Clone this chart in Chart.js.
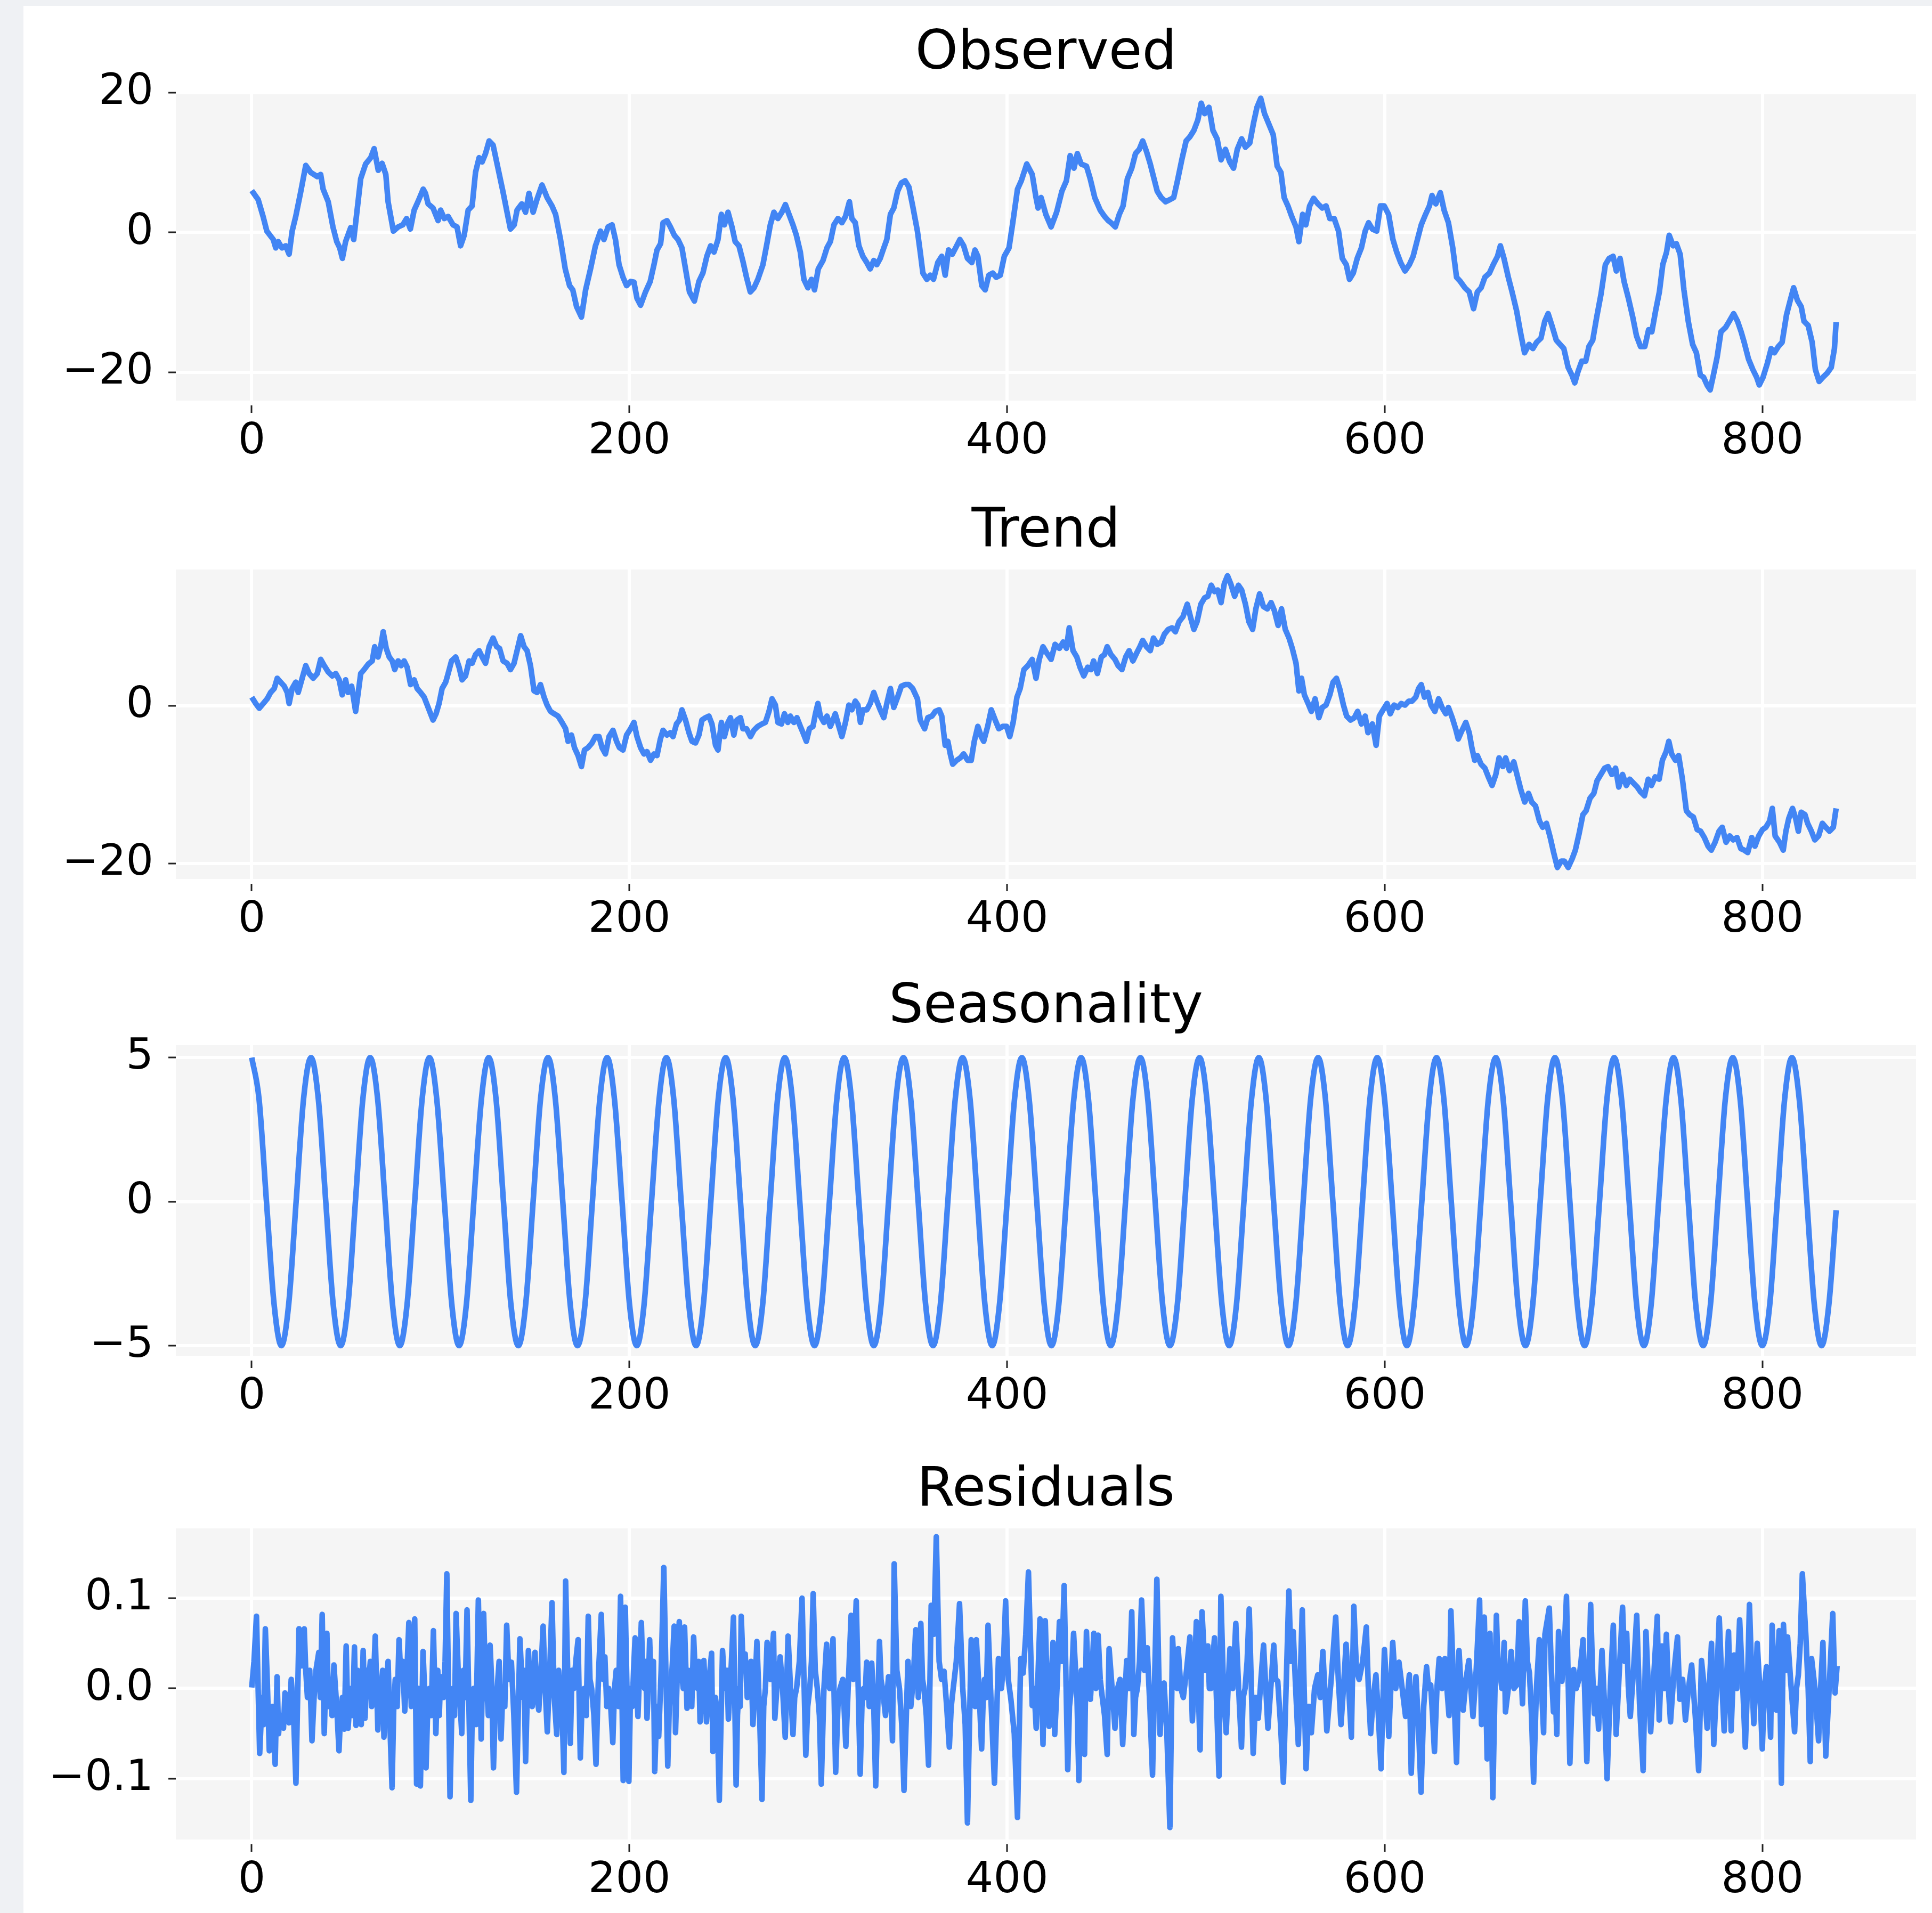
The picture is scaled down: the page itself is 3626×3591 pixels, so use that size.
<!DOCTYPE html>
<html>
<head>
<meta charset="utf-8">
<script src="https://cdn.jsdelivr.net/npm/chart.js@4.4.1/dist/chart.umd.min.js"></script>
<style>
  html, body { margin: 0; padding: 0; }
  body { width: 3626px; height: 3591px; background: #eff1f4; position: relative; overflow: hidden; }
  #sheet { position: absolute; left: 44px; top: 11px; right: 0; bottom: 0; background: #fff; }
  canvas { position: absolute; left: 0; }
</style>
</head>
<body>
<div id="sheet"></div>
<canvas id="obs"></canvas>
<canvas id="trend"></canvas>
<canvas id="season"></canvas>
<canvas id="resid"></canvas>
<script>
const titles = ['Observed', 'Trend', 'Seasonality', 'Residuals']
const xTicks = [0, 200, 400, 600, 800]
const obsTicks = [-20, 0, 20]
const trendTicks = [-20, 0]
const seasonTicks = [-5, 0, 5]
const residTicks = [-0.1, 0, 0.1]

const observed = [[0,6.0],[3.4,4.7],[6,2.3],[8,0.2],[11.4,-1],[12.7,-2.2],[14,-1.3],[16,-2.2],[18,-1.9],[19.8,-3.1],[21.4,0.2],[23.3,2.3],[26,5.9],[28.6,9.6],[31.2,8.6],[34.7,8.0],[36.5,8.3],[37.8,6.2],[40.5,4.4],[43,0.8],[45,-1.3],[46.6,-2.2],[48,-3.7],[49.7,-1.3],[52.4,0.7],[54,-1],[55.8,3.2],[57.7,7.7],[60.3,9.8],[63,10.7],[64.8,12.0],[67,8.9],[69,9.9],[71,8.3],[72.2,4.4],[75,0.2],[77.5,0.8],[80,1.1],[82,2],[84,0.5],[86,3.2],[88,4.4],[90.8,6.2],[92,5.6],[93.4,4.1],[96,3.5],[98.7,1.7],[100,3.2],[102,2],[104,2.3],[106.6,1.1],[108.7,0.8],[110.6,-1.9],[112.5,-0.4],[114.6,3.2],[116.7,3.8],[118.5,8.6],[120.4,10.7],[122,10.1],[123.8,11.3],[125.7,13.1],[127.8,12.5],[130.4,9.2],[133,5.9],[135.2,2.9],[137,0.5],[139,1.1],[140.5,3.2],[143,4.1],[145,2.9],[146.8,5.6],[149,2.9],[151,4.7],[153.7,6.8],[156.4,5.0],[159,3.8],[160.9,2.6],[163.5,-1],[166,-5.2],[168.3,-7.6],[170,-8.2],[172,-10.6],[174.6,-12.1],[176.8,-8.2],[179.4,-5.2],[182,-1.9],[184.7,0.2],[186.5,-1],[188.7,0.8],[190.8,1.1],[192.6,-1],[194.5,-4.6],[196.6,-6.4],[198.5,-7.6],[200.6,-7],[202.4,-7.1],[204,-9.4],[205.9,-10.4],[208.5,-8.5],[211,-7],[213,-4.6],[214.6,-2.5],[216.5,-1.6],[217.8,1.4],[219.9,1.7],[221.7,0.8],[223.8,-0.4],[225.7,-1],[227.8,-2.2],[229.7,-5.2],[231.8,-8.5],[234.4,-9.8],[236.8,-7],[238.9,-5.8],[241,-3.4],[243,-1.9],[244.8,-2.8],[246.9,-1],[248.7,2.6],[250.3,1.1],[252.2,2.9],[254.3,0.8],[256,-1.3],[258,-1.9],[260,-4],[262,-6.4],[264,-8.5],[266,-7.9],[268,-6.7],[270.7,-4.6],[272.8,-1.6],[274.6,1.1],[276.5,2.9],[278.6,2],[280.7,2.9],[282.6,4],[284.5,2.6],[286.6,1.1],[288.4,-0.4],[290.5,-2.8],[292.4,-6.7],[294.5,-7.9],[296.4,-6.7],[298,-8.2],[300,-5.2],[302.5,-4],[304.6,-2.2],[306.4,-1.3],[308.3,1.1],[310.4,2],[312.5,1.4],[314.4,2.3],[316.5,4.4],[317.8,2],[319.6,1.4],[321.5,-1.9],[323.6,-3.4],[325.7,-4.3],[327.5,-5.2],[329.4,-4],[331,-4.6],[332.8,-3.7],[334.7,-2.2],[336.3,-1],[338.2,2.6],[340,3.5],[342,5.9],[344,7.1],[346,7.4],[348,6.5],[350,3.8],[352.5,0.2],[354,-2.8],[355.4,-5.8],[357.5,-6.7],[359.3,-6.1],[361,-6.7],[363.3,-4.3],[365.4,-3.4],[367.2,-6.1],[369,-2.5],[371,-3.1],[373.3,-1.9],[375,-1],[377,-1.9],[379,-3.7],[381.3,-4.3],[383,-2.5],[384.5,-3.4],[386.6,-7.6],[388.4,-8.2],[390.3,-6.1],[392.4,-5.8],[394.2,-6.4],[396.4,-6.1],[398.5,-3.4],[401,-2.2],[403,1.4],[405.5,6.2],[407.5,7.4],[410.4,9.8],[413.3,8.3],[415.3,5],[416.4,3.5],[418,5],[420.5,2.6],[423.3,0.8],[426.2,2.9],[429,5.9],[431.4,7.4],[433.4,11],[435.4,9.2],[437.2,11.3],[439.2,9.8],[442,9.5],[444,7.7],[446.4,5],[449.3,3.2],[451.6,2.3],[453.6,1.7],[455,1.4],[457.3,0.8],[459.4,2.6],[461.4,3.8],[463.7,7.7],[466,9.2],[468,11.3],[470,11.9],[471.8,13.1],[473.8,11.6],[475.8,9.8],[477.5,8],[479.5,5.9],[481.6,5],[483.9,4.4],[486.2,4.7],[488.2,5],[490.2,7.4],[492.5,10.4],[494.8,13.1],[496.8,13.7],[498.9,14.6],[501,16.1],[502.8,18.5],[504.6,17],[506.9,17.9],[509,14.6],[511.2,13.4],[513.3,10.4],[515.6,11.9],[517.9,10.1],[519.9,9.2],[521.9,11.9],[524.2,13.4],[526.2,12.2],[528.5,12.8],[530.6,15.8],[532.3,17.9],[534.3,19.2],[536.3,17],[538.6,15.5],[540.9,14],[543,9.5],[545,8.6],[546.7,5],[548.7,3.8],[550.7,2.3],[553,0.8],[554.5,-1.3],[556.5,2.6],[558.2,1.1],[560.2,3.8],[562.3,4.9],[564.6,4.1],[566.9,3.5],[568.9,3.8],[570.9,2],[573.2,2],[575.5,0.2],[577.5,-3.7],[579.6,-4.6],[581.3,-6.7],[583.3,-5.8],[585.4,-3.7],[587.6,-2.2],[589.6,0.2],[591.4,1.4],[593.4,0.5],[595.7,0.2],[597.7,3.8],[599.7,3.8],[602,2.6],[604.3,-1],[606.3,-2.8],[608.4,-4.3],[610.7,-5.5],[613,-4.6],[615,-3.4],[617,-1.3],[619.3,1.1],[621.6,2.6],[623.6,3.8],[625,5.3],[627,4.1],[629.4,5.7],[631.4,3.2],[633.7,1.4],[636,-2.2],[638,-6.4],[640,-7],[642.4,-7.9],[644.7,-8.5],[647,-10.9],[649,-8.5],[651,-7.9],[653,-6.4],[655.4,-5.8],[657.4,-4.6],[659.7,-3.4],[661.2,-1.9],[663.1,-3.7],[665.4,-6.4],[667.4,-8.5],[669.8,-11.2],[671.8,-14.2],[674,-17.2],[676.4,-16],[678.4,-16.6],[680.4,-15.7],[682.7,-15.1],[684.7,-12.7],[686.5,-11.6],[688.5,-13.3],[690.8,-15.4],[692.8,-16],[694.8,-16.6],[697.1,-19.3],[699.1,-20.4],[700.6,-21.5],[702.3,-19.9],[704.3,-18.4],[706.4,-18.4],[708.1,-16.3],[710.1,-15.4],[712.2,-12.1],[714.5,-8.8],[716.8,-4.6],[718.8,-3.7],[720.9,-3.4],[722.6,-5.5],[724.6,-3.7],[726.7,-7],[729,-9.4],[731.3,-12.1],[733.3,-14.8],[735.4,-16.3],[737.7,-16.3],[739.7,-13.9],[741.4,-14.2],[743.4,-11.2],[745.4,-8.5],[747.2,-4.6],[749.2,-2.8],[750.6,-0.4],[752.7,-1.9],[754.4,-1.6],[756.4,-3.1],[758.4,-8.2],[760.7,-12.7],[763,-16],[765,-17.2],[767.1,-20.4],[768.8,-20.7],[770.8,-21.9],[772.3,-22.5],[774,-20.4],[776,-17.8],[778,-14.2],[780.4,-13.6],[782.4,-12.7],[784.7,-11.6],[786.8,-12.7],[788.7,-14.2],[790.3,-15.7],[792.6,-18.1],[794.9,-19.6],[796.9,-20.7],[798.3,-21.8],[800.3,-20.7],[802.6,-18.7],[804.6,-16.6],[806.3,-17.2],[808.4,-16.3],[810.4,-15.7],[812.7,-11.8],[814.7,-9.7],[816.5,-7.9],[818.5,-9.7],[820.5,-10.6],[822,-12.7],[824.2,-13.3],[826.3,-15.7],[828,-19.6],[830,-21.3],[832,-20.7],[834.3,-20.1],[836.4,-19.3],[838.1,-16.6],[839,-12.8]]

const trend = [[0,1.1],[2.1,0.3],[4,-0.3],[6.1,0.3],[8.2,0.9],[10,1.7],[11.9,2.2],[13.5,3.5],[15.3,3],[17.2,2.5],[18.8,1.7],[19.8,0.3],[21.4,2.2],[23.3,3],[24.6,1.7],[26.7,3.5],[28.6,5.1],[30.4,4.1],[32.5,3.5],[34.7,4.1],[36.5,5.9],[38.4,5.1],[40.5,4.3],[42.6,3.8],[44.5,4.1],[46.3,3.3],[47.9,1.4],[49.7,3.3],[51,1.7],[52.9,2.5],[55,-0.7],[56.4,1.7],[57.7,4.1],[59.5,4.6],[61.7,5.3],[63.8,5.7],[65.1,7.5],[66.9,6.2],[68.3,7.5],[69.6,9.4],[71.2,7.3],[72.8,6.2],[74.4,5.7],[75.7,4.6],[77.5,5.7],[79.1,5.1],[80.7,5.7],[82.3,4.9],[84.1,2.7],[86,3.3],[87.6,2.2],[89.4,1.7],[91.3,1.1],[93.4,-0.2],[94.7,-1],[96,-1.8],[97.6,-1],[99.2,0.3],[100.8,2.2],[102.7,3],[104,4.1],[105.8,5.7],[108,6.2],[109.8,4.9],[111.4,3.3],[113.2,3.8],[115.1,5.7],[116.7,5.4],[118.5,6.5],[120.4,7],[122,6.2],[123.8,5.4],[125.7,7.5],[127.8,8.6],[129.7,7.5],[131.2,7.3],[133.1,5.7],[135.2,5.4],[137,4.6],[138.9,5.4],[140.5,7],[142.4,8.9],[144.2,7.5],[145.8,7],[147.6,5.1],[149.5,1.9],[151.1,1.7],[152.9,2.7],[154.8,1.1],[156.4,0.1],[158.2,-0.7],[160.1,-1],[162.2,-1.3],[164.3,-2.1],[166.2,-2.9],[167.5,-4.5],[169.3,-3.7],[170.9,-5.3],[172.8,-6.3],[174.6,-7.7],[176.2,-5.6],[178.1,-5.3],[180.2,-4.7],[182,-3.9],[183.9,-3.9],[185.5,-5.3],[187.3,-6.1],[189.2,-3.9],[191.3,-3.1],[193.2,-4.5],[194.7,-5.3],[196.6,-5.6],[198.5,-3.7],[200.6,-2.9],[202.4,-2.1],[204,-3.9],[205.9,-5.3],[207.7,-6.1],[209.3,-5.8],[211.2,-6.9],[213,-6.1],[214.6,-6.3],[216.4,-4.2],[217.8,-3.1],[219.9,-3.7],[221.7,-3.4],[223.1,-3.9],[224.9,-2.3],[226.5,-1.8],[227.8,-0.5],[229.7,-1.8],[231.5,-3.4],[233.1,-4.5],[235,-4.7],[236.8,-3.7],[238.4,-1.8],[240.3,-1.5],[242.1,-1.3],[243.7,-2.3],[245.6,-5],[246.9,-5.6],[248.7,-2.1],[250.3,-3.9],[252.2,-2.1],[253.5,-1.5],[255.3,-3.7],[256.9,-1.8],[258.8,-1.5],[260.1,-2.9],[262,-2.9],[264.1,-3.9],[265.9,-3.1],[268,-2.6],[270.2,-2.3],[272,-2.1],[273.9,-0.7],[275.5,0.9],[277.3,0.1],[278.6,-2.1],[280.5,-2.3],[282.1,-1],[283.9,-2.1],[285.2,-1.3],[287.1,-2.1],[288.7,-1.5],[290.5,-2.6],[291.9,-3.4],[293.7,-4.5],[295.3,-2.9],[297.2,-2.6],[298.5,-1],[299.8,0.3],[301.1,-1.3],[303,-2.1],[304.6,-1.3],[306.4,-2.6],[307.8,-1.8],[309,-1],[310.9,-2.6],[312.5,-3.9],[314.4,-2.1],[316.2,0.1],[317.8,-0.5],[319.6,0.6],[321,0.1],[322.3,-2.1],[323.6,-0.5],[325.7,-0.5],[327.5,0.3],[329.4,1.7],[331,0.6],[332.8,-0.5],[334.7,-1.5],[336.3,0.3],[338.2,2.2],[340,-0.2],[342,1.1],[344,2.5],[346,2.7],[348,2.7],[350,2.2],[352.5,0.9],[354,-1.8],[356.3,-2.9],[358,-1.5],[360.2,-1.3],[362,-0.7],[364,-0.5],[365.4,-1.3],[367.2,-5],[368.6,-4.5],[369.9,-6.1],[371.2,-7.4],[373.3,-6.9],[375.2,-6.6],[377,-6.1],[379.1,-6.9],[381,-6.9],[382.6,-4.5],[384.5,-2.6],[386.3,-3.9],[387.6,-4.5],[389.7,-2.6],[391.6,-0.5],[393.7,-1.8],[395.6,-2.9],[397.7,-2.6],[399.7,-2.6],[401.4,-3.9],[403.2,-2.1],[405.2,1.1],[406.9,2.2],[408.9,4.6],[411,5.1],[413.3,5.9],[415.3,3.5],[417,5.9],[419,7.5],[421,6.7],[423.3,5.9],[425.4,7.8],[427.7,7.3],[429.7,8.1],[431.4,7.3],[432.9,9.9],[434.9,7],[436.9,6.2],[438.6,4.9],[440.6,3.8],[442.7,4.9],[444.4,4.6],[445.8,5.7],[447.8,4.1],[449.9,6.2],[451.6,6.5],[453,7.5],[455,6.5],[457.1,5.9],[458.8,5.1],[460.8,4.6],[462.8,6.2],[464.6,7],[466.6,5.7],[468.6,6.7],[470.3,7.5],[471.8,8.3],[473.8,7.5],[475.8,7],[477.5,8.6],[479.5,7.8],[481.6,8.1],[483.3,9.1],[485.3,9.7],[487.3,9.9],[489.1,9.4],[491.1,10.7],[493.1,11.3],[495.4,12.9],[497.4,11],[498.9,9.7],[500.6,10.7],[502.6,12.9],[504.6,13.7],[506.3,13.9],[508.1,15.3],[509.8,14.5],[511.5,14.7],[513.3,13.1],[515,15.5],[516.7,16.5],[518.4,15.5],[520.5,13.9],[522.5,15.3],[524.2,14.7],[526.2,12.9],[528,10.7],[530,9.7],[531.7,12.3],[533.7,14.2],[535.7,12.6],[537.8,12.3],[539.8,13.1],[541.5,12.1],[543.5,10.2],[545.3,12.3],[547.3,9.7],[549.3,8.6],[551,7.3],[553,5.4],[554.5,1.9],[555.9,3.5],[557.4,1.4],[559.4,0.3],[561.1,-0.7],[563.1,0.9],[565.1,-1.5],[566.9,-0.2],[568.9,0.1],[570.9,1.4],[572.6,3],[574.4,3.5],[576.1,2.2],[578.1,0.1],[579.8,-1.3],[581.9,-1.8],[583.9,-1.5],[585.6,-0.7],[587.6,-2.3],[589.6,-1.3],[591.1,-3.4],[593.4,-2.3],[595.4,-5],[597.1,-1.3],[599.1,-0.5],[601.2,0.3],[602.9,-1],[604.9,0.1],[606.9,-0.2],[608.7,0.3],[610.7,0.1],[612.7,0.6],[614.4,0.6],[616.4,1.1],[617.9,2.2],[619.3,2.7],[621,1.1],[622.8,1.7],[624.5,0.1],[626.5,-0.7],[628.5,0.9],[630.3,-0.2],[632.3,-1],[633.7,-0.2],[635.7,-1.5],[637.5,-2.9],[638.9,-4.2],[640.9,-3.1],[642.9,-2.1],[644.7,-3.4],[646.1,-5.3],[647.6,-6.9],[649,-6.3],[651,-7.4],[653,-7.9],[654.8,-9],[656.8,-10.1],[658.8,-8.7],[660.5,-6.6],[662.5,-7.7],[664,-6.6],[666,-8.2],[668.3,-7.1],[670.3,-9],[672,-10.6],[674.1,-12.2],[676.1,-11.1],[677.8,-12.2],[679.8,-12.7],[681.9,-14.6],[683.6,-15.4],[685.6,-14.9],[687.6,-16.7],[689.4,-18.6],[691.4,-20.5],[693.4,-19.7],[695.1,-19.7],[697.1,-20.5],[699.2,-19.4],[700.9,-18.3],[702.9,-16.2],[704.9,-13.8],[706.6,-13.3],[708.7,-11.7],[710.7,-11.1],[712.4,-9.5],[714.4,-8.7],[716.4,-7.9],[718.2,-7.7],[720.2,-8.7],[722.2,-7.9],[723.9,-10.3],[725.9,-8.7],[727.9,-10.1],[729.7,-9.3],[731.7,-9.8],[733.7,-10.3],[735.4,-10.9],[737.5,-11.4],[739.5,-9.3],[741.2,-10.1],[743.2,-9],[745.3,-9.3],[747,-6.9],[749,-5.8],[750.4,-4.5],[751.9,-6.1],[753.9,-6.9],[755.6,-6.3],[757.6,-9.3],[759.7,-13.3],[761.4,-13.8],[763.4,-14.1],[765.4,-15.7],[767.2,-15.9],[769.2,-16.7],[771.2,-17.8],[772.9,-18.3],[774.9,-17.3],[777,-15.9],[778.7,-15.4],[780.7,-17.3],[782.7,-16.5],[784.5,-17],[786.5,-16.7],[788.5,-18.1],[790.3,-18.3],[792.2,-18.6],[794.3,-16.7],[796,-17.8],[798,-16.5],[800,-15.7],[801.8,-15.4],[803.8,-14.6],[805.2,-13],[806.7,-16.5],[809,-17.3],[811,-18.3],[812.4,-15.9],[813.9,-14.3],[815.9,-13],[817.6,-14.3],[819,-15.9],[820.5,-13.5],[822.5,-13.8],[823.9,-14.9],[825.9,-15.9],[827.7,-17],[829.7,-16.5],[831.7,-14.9],[833.5,-15.4],[835.5,-15.9],[837.5,-15.4],[839,-13]]

const seasonal = [[0,5],[3.9,3.54],[7.8,0],[11.8,-3.54],[15.7,-5],[19.6,-3.54],[23.5,0],[27.4,3.54],[31.4,5],[35.3,3.54],[39.2,0],[43.1,-3.54],[47.1,-5],[51.0,-3.54],[54.9,0],[58.8,3.54],[62.7,5],[66.7,3.54],[70.6,0],[74.5,-3.54],[78.4,-5],[82.3,-3.54],[86.3,0],[90.2,3.54],[94.1,5],[98.0,3.54],[102.0,0],[105.9,-3.54],[109.8,-5],[113.7,-3.54],[117.6,0],[121.6,3.54],[125.5,5],[129.4,3.54],[133.3,0],[137.2,-3.54],[141.2,-5],[145.1,-3.54],[149.0,0],[152.9,3.54],[156.9,5],[160.8,3.54],[164.7,0],[168.6,-3.54],[172.5,-5],[176.5,-3.54],[180.4,0],[184.3,3.54],[188.2,5],[192.1,3.54],[196.1,0],[200.0,-3.54],[203.9,-5],[207.8,-3.54],[211.7,0],[215.7,3.54],[219.6,5],[223.5,3.54],[227.4,0],[231.4,-3.54],[235.3,-5],[239.2,-3.54],[243.1,0],[247.0,3.54],[251.0,5],[254.9,3.54],[258.8,0],[262.7,-3.54],[266.6,-5],[270.6,-3.54],[274.5,0],[278.4,3.54],[282.3,5],[286.3,3.54],[290.2,0],[294.1,-3.54],[298.0,-5],[301.9,-3.54],[305.9,0],[309.8,3.54],[313.7,5],[317.6,3.54],[321.5,0],[325.5,-3.54],[329.4,-5],[333.3,-3.54],[337.2,0],[341.1,3.54],[345.1,5],[349.0,3.54],[352.9,0],[356.8,-3.54],[360.8,-5],[364.7,-3.54],[368.6,0],[372.5,3.54],[376.4,5],[380.4,3.54],[384.3,0],[388.2,-3.54],[392.1,-5],[396.0,-3.54],[400.0,0],[403.9,3.54],[407.8,5],[411.7,3.54],[415.7,0],[419.6,-3.54],[423.5,-5],[427.4,-3.54],[431.3,0],[435.3,3.54],[439.2,5],[443.1,3.54],[447.0,0],[450.9,-3.54],[454.9,-5],[458.8,-3.54],[462.7,0],[466.6,3.54],[470.6,5],[474.5,3.54],[478.4,0],[482.3,-3.54],[486.2,-5],[490.2,-3.54],[494.1,0],[498.0,3.54],[501.9,5],[505.8,3.54],[509.8,0],[513.7,-3.54],[517.6,-5],[521.5,-3.54],[525.4,0],[529.4,3.54],[533.3,5],[537.2,3.54],[541.1,0],[545.1,-3.54],[549.0,-5],[552.9,-3.54],[556.8,0],[560.7,3.54],[564.7,5],[568.6,3.54],[572.5,0],[576.4,-3.54],[580.3,-5],[584.3,-3.54],[588.2,0],[592.1,3.54],[596.0,5],[599.9,3.54],[603.9,0],[607.8,-3.54],[611.7,-5],[615.6,-3.54],[619.6,0],[623.5,3.54],[627.4,5],[631.3,3.54],[635.2,0],[639.2,-3.54],[643.1,-5],[647.0,-3.54],[650.9,0],[654.8,3.54],[658.8,5],[662.7,3.54],[666.6,0],[670.5,-3.54],[674.5,-5],[678.4,-3.54],[682.3,0],[686.2,3.54],[690.1,5],[694.1,3.54],[698.0,0],[701.9,-3.54],[705.8,-5],[709.7,-3.54],[713.7,0],[717.6,3.54],[721.5,5],[725.4,3.54],[729.4,0],[733.3,-3.54],[737.2,-5],[741.1,-3.54],[745.0,0],[749.0,3.54],[752.9,5],[756.8,3.54],[760.7,0],[764.6,-3.54],[768.6,-5],[772.5,-3.54],[776.4,0],[780.3,3.54],[784.3,5],[788.2,3.54],[792.1,0],[796.0,-3.54],[799.9,-5],[803.9,-3.54],[807.8,0],[811.7,3.54],[815.6,5],[819.5,3.54],[823.5,0],[827.4,-3.54],[831.3,-5],[835.2,-3.54],[839,-0.3]]

const residual = [[0,0.001],[1.2,0.03],[2.5,0.080],[4.2,-0.072],[5.5,-0.010],[6.3,-0.04],[7.2,0.066],[8.2,0.01],[9.3,-0.069],[11,-0.020],[12.4,-0.084],[13.4,0.013],[14.2,-0.05],[15,-0.030],[16.8,-0.044],[17.6,-0.005],[18.5,-0.010],[19.7,-0.038],[20.9,0.010],[22,-0.020],[23.4,-0.105],[25,0.066],[26.4,0.025],[27.8,0.066],[28.6,0.02],[29.5,-0.010],[30.7,0.02],[31.9,-0.058],[33,-0.01],[34,0.020],[35.5,0.040],[36.3,-0.01],[37.3,0.082],[38.4,-0.050],[39.8,0.061],[40.6,-0.02],[41.5,0.010],[42.5,-0.03],[43.5,0.026],[45,-0.020],[46.2,-0.069],[47,-0.03],[48,-0.010],[49,-0.045],[50,0.047],[51,-0.044],[52.5,0.000],[53.4,-0.03],[54.4,0.046],[55.2,-0.041],[56,0.02],[57,0.000],[58,-0.04],[59,0.042],[60,-0.033],[61,0.02],[62,0.010],[62.8,0.03],[63.5,-0.020],[64.5,0.01],[65.4,0.058],[66.8,-0.046],[67.6,0.01],[68.5,0.000],[69.3,0.02],[70,-0.054],[71.5,0.010],[72.2,0.03],[73,-0.030],[74.3,-0.110],[75.2,-0.02],[76,0.010],[77,-0.02],[78,0.054],[79,0.01],[80,0.03],[81,-0.025],[82.2,0.02],[83.2,0.073],[84.5,-0.020],[85.4,0.02],[86.3,0.077],[87.3,-0.106],[88.3,0.000],[89.3,-0.108],[90.7,0.041],[91.5,0.0],[92.3,-0.088],[93.2,-0.02],[94,0.000],[95,-0.03],[96.2,0.064],[97.5,-0.050],[98.5,0.02],[99.3,-0.03],[100,0.013],[101.5,-0.010],[102.4,0.03],[103.3,0.127],[105,-0.120],[105.8,-0.04],[106.5,0.000],[107.4,-0.03],[108.2,0.083],[109.3,0.02],[110.5,-0.022],[111.2,-0.05],[112,0.020],[113,-0.01],[114,0.087],[116,-0.124],[116.8,-0.02],[117.5,0.000],[118.8,-0.04],[120,0.098],[121.5,-0.056],[122.8,0.083],[123.6,0.02],[124.5,0.000],[125.3,-0.03],[126.2,0.048],[127,0.01],[128,-0.088],[129,-0.02],[130,0.000],[131,0.03],[132,-0.056],[133,0.0],[134,-0.02],[135,0.070],[136.2,0.01],[137.5,0.029],[138.8,-0.03],[140.2,-0.115],[142,0.055],[143.5,-0.010],[144.2,0.02],[145,-0.081],[146.5,0.042],[147.5,0.0],[148.5,-0.020],[149.2,0.01],[150,0.040],[151,-0.01],[152,-0.024],[153.2,0.02],[154.3,0.069],[155.4,0.0],[156.5,-0.048],[157.8,0.02],[159,0.095],[160.2,-0.01],[161.5,-0.051],[162.5,0.02],[163.5,0.000],[164.4,-0.03],[165.3,-0.093],[166.2,0.119],[167.5,0.0],[168.7,-0.061],[169.6,0.02],[170.5,0.000],[171.6,0.03],[172.8,0.054],[174,-0.077],[175,-0.01],[176,0.000],[177.1,-0.03],[178.2,0.080],[179.1,0.01],[180,0.000],[181.2,-0.03],[182.3,-0.084],[183.7,0.02],[185.1,0.082],[186,0.01],[187,0.035],[188,-0.02],[189,0.000],[190.1,-0.02],[191.2,-0.060],[192.1,0.0],[193,0.020],[194.2,-0.02],[195.3,0.102],[196.7,-0.102],[197.8,0.090],[199.7,-0.103],[200.6,0.0],[201.5,-0.020],[202.2,0.02],[203,0.056],[203.8,0.0],[204.5,-0.031],[205.4,0.02],[206.3,0.073],[207.2,0.01],[208,0.000],[208.6,0.03],[209.3,-0.033],[210,0.0],[210.7,0.054],[211.4,0.01],[212,0.000],[212.7,0.03],[213.4,-0.092],[214.5,-0.02],[215.5,-0.053],[216.8,0.02],[218.2,0.134],[220.3,-0.086],[221.1,-0.02],[222,0.000],[222.8,0.03],[223.7,0.069],[224.4,-0.049],[225.4,0.02],[226.4,0.074],[227.5,0.02],[228.5,0.000],[229.2,0.068],[230.5,-0.022],[231.2,0.02],[232,0.010],[233,-0.02],[234,0.057],[235,0.01],[236,0.000],[236.7,0.03],[237.4,-0.037],[238.4,0.0],[239.4,0.031],[240.1,0.0],[240.8,-0.037],[242.2,0.01],[243.5,0.039],[244.2,-0.070],[245.5,-0.010],[246.5,-0.03],[247.6,-0.124],[249.3,0.042],[250.2,0.01],[251,0.000],[251.7,0.02],[252.4,-0.034],[253.8,0.02],[255.1,0.079],[256.5,-0.107],[257.2,-0.03],[258,0.000],[258.6,-0.02],[259.2,0.080],[260.3,0.02],[261.3,0.038],[262.4,-0.01],[263.5,0.010],[264.4,0.03],[265.4,-0.040],[266.5,0.0],[267.5,0.052],[268.8,-0.02],[270.2,-0.123],[271.1,-0.02],[272,0.000],[272.9,0.051],[274.6,0.01],[276.3,0.061],[277,-0.033],[278.4,0.01],[279.8,0.035],[281.1,0.0],[282.5,-0.054],[284,0.058],[285.3,0.0],[286.6,-0.051],[287.5,-0.01],[288.5,0.000],[290,0.03],[291.4,0.100],[293.4,-0.074],[294.4,-0.02],[295.5,0.000],[296.4,0.03],[297.3,0.105],[298.4,0.02],[299.5,0.000],[300.6,-0.03],[301.6,-0.106],[303,0.0],[304.4,0.049],[305.2,0.01],[306,0.000],[307,0.02],[307.8,0.055],[309.2,-0.093],[310.4,-0.02],[311.5,0.000],[313,0.01],[314.6,-0.064],[316,0.01],[317.4,0.081],[318.5,0.010],[320.1,0.097],[322.2,-0.095],[323.1,-0.02],[324,0.000],[324.8,-0.01],[325.6,0.029],[327,-0.020],[328.3,0.028],[329.4,-0.02],[330.4,-0.108],[332.4,0.052],[333.2,0.01],[334,0.000],[335.6,-0.03],[337.2,0.013],[338.3,0.0],[339.3,-0.058],[340.2,0.138],[341.6,0.02],[343,0.000],[344.2,-0.04],[345.4,-0.113],[347.5,0.030],[349,-0.020],[350.3,0.01],[351.6,0.065],[353,-0.010],[354.3,0.072],[355.2,0.01],[356,0.000],[357.2,-0.03],[358.4,-0.085],[359.8,0.092],[361.2,0.06],[362.5,0.168],[364,0.030],[365.3,0.01],[366.6,0.019],[368,-0.02],[369.4,-0.065],[370.4,-0.02],[371.4,-0.001],[373.1,0.03],[374.8,0.094],[376.5,0.000],[377.8,-0.04],[379,-0.149],[381,0.054],[382,0.01],[383,-0.020],[383.7,0.054],[385.1,0.0],[386.5,-0.067],[387.2,-0.02],[388,0.010],[389,-0.01],[389.9,0.070],[391.6,-0.02],[393.3,-0.105],[395.4,0.033],[396.2,0.0],[397,0.000],[398.1,0.03],[399.2,0.097],[400.6,0.01],[402,-0.012],[403.8,-0.05],[405.5,-0.143],[407.2,0.033],[408.5,0.017],[409.9,0.06],[411.3,0.129],[413.3,-0.019],[414.3,0.0],[415.4,-0.044],[417.4,0.077],[419,-0.062],[420.2,0.075],[421.2,0.0],[422.2,-0.042],[423.2,0.0],[424.3,0.051],[425.2,-0.051],[426.4,0.0],[427.7,0.074],[429,0.03],[430.2,0.114],[432.1,-0.090],[433,-0.02],[434,0.000],[435.2,0.061],[437,-0.010],[438,-0.102],[439.3,0.020],[440.2,-0.01],[441,-0.073],[442,0.063],[443,0.01],[444.1,-0.012],[445,0.02],[445.9,0.061],[447,0.0],[448.2,0.059],[449.3,0.01],[450.3,-0.008],[451.6,-0.03],[453,-0.073],[454,0.044],[455.6,0.0],[457.1,-0.044],[458.5,0.0],[459.8,0.010],[461.2,-0.062],[463.3,0.031],[464.6,0.0],[466,0.085],[467.1,-0.051],[468,-0.01],[469,0.000],[470.1,0.03],[471.2,0.098],[472.7,0.02],[474.2,0.045],[475.6,-0.02],[477,-0.096],[479.3,0.121],[481,-0.051],[482,0.0],[483.1,0.006],[484.6,-0.05],[486.2,-0.154],[487.6,0.056],[488.8,0.01],[490,0.000],[490.6,0.044],[492,0.0],[493.3,-0.010],[495,0.02],[496.8,0.057],[498.1,-0.036],[499.2,0.01],[500.2,0.074],[502.2,-0.068],[503.2,0.085],[504.8,0.02],[506.3,0.047],[507.1,0.0],[508,0.000],[508.9,0.03],[509.8,0.056],[511,-0.02],[512.2,-0.097],[513.2,0.102],[514.6,0.0],[516,-0.049],[517,0.0],[518,0.044],[519.5,0.0],[521.1,0.072],[522.6,0.0],[524.1,-0.065],[525,-0.01],[526,0.000],[527.1,0.03],[528.2,0.088],[530.3,-0.072],[531.6,-0.01],[533,-0.033],[534.4,0.01],[535.8,0.048],[537,0.0],[538.1,-0.044],[539.6,0.0],[541.2,0.048],[542.2,0.01],[543.3,0.008],[544.8,-0.04],[546.3,-0.104],[549.2,0.108],[550.3,0.03],[551.5,0.063],[552.8,0.0],[554.2,-0.062],[556.3,0.087],[558.3,-0.089],[559.7,-0.02],[561.1,-0.049],[562.8,0.0],[564.5,0.015],[565.8,-0.01],[567.2,0.041],[568.2,0.0],[569.3,-0.047],[571.6,0.01],[574,0.079],[575.4,0.01],[576.8,-0.040],[578.1,0.0],[579.5,0.049],[580.9,0.0],[582.3,-0.054],[583.6,0.091],[585,0.02],[586.4,0.010],[588.3,0.03],[590.2,0.068],[591.3,0.0],[592.5,-0.050],[593.9,-0.01],[595.3,0.015],[596.6,-0.03],[598,-0.089],[599.8,0.043],[601,0.0],[602.1,-0.053],[604.2,0.051],[605.8,0.0],[607.5,0.029],[609.2,0.0],[611,-0.031],[613,0.015],[614,-0.094],[615.2,-0.02],[616.5,0.013],[617.8,-0.04],[619.2,-0.115],[620.6,-0.02],[622.1,0.024],[623.2,0.0],[624.3,0.004],[625.3,-0.03],[626.3,-0.070],[627.6,0.0],[628.8,0.033],[630.3,0.0],[631.8,0.033],[632.9,0.0],[634,-0.030],[635,0.086],[636.5,0.0],[638,-0.082],[639.3,0.042],[640.4,0.0],[641.5,-0.024],[643,0.01],[644.5,0.031],[645.6,0.0],[646.7,-0.031],[648.4,0.02],[650.2,0.098],[651.2,-0.040],[652.7,0.079],[654.2,-0.078],[655.7,0.061],[657.2,-0.121],[659.1,0.081],[660,0.02],[660.9,0.019],[662,0.0],[663.2,0.051],[663.9,-0.026],[665.4,0.0],[666.9,0.041],[668.4,0.0],[669.9,0.004],[671.1,0.074],[672.9,-0.017],[674.4,0.097],[675.5,0.03],[676.6,0.017],[677.7,-0.03],[678.8,-0.104],[680.3,0.0],[681.8,0.054],[683,0.0],[684.1,-0.049],[684.8,0.060],[687.1,0.089],[688.2,0.02],[689.3,-0.026],[690.2,0.0],[691.1,-0.051],[692,0.063],[693.8,0.008],[695,0.04],[696.2,0.102],[698,-0.083],[699,-0.02],[700,0.021],[701.4,0.0],[702.8,0.010],[703.9,0.03],[705,0.054],[707,-0.081],[709,0.093],[710,0.02],[711,-0.028],[712.1,0.0],[713.2,-0.045],[714.1,0.0],[715,0.042],[716.4,-0.02],[717.7,-0.100],[719.4,0.0],[721,0.070],[722.5,-0.051],[724.2,0.02],[725.9,0.090],[727,0.03],[728.1,0.061],[729,0.0],[730,-0.031],[731.7,0.02],[733.4,0.081],[734.9,-0.017],[736.8,-0.091],[738.3,0.063],[739.6,0.0],[740.8,-0.048],[742.6,0.02],[744.3,0.080],[745.3,-0.035],[746.8,0.047],[748,0.0],[749.1,0.060],[750.2,0.0],[751.3,-0.037],[753.2,0.02],[755,0.057],[756.2,-0.012],[757.7,0.01],[759.2,-0.035],[760.8,0.0],[762.5,0.026],[764.4,-0.03],[766.2,-0.091],[767.7,0.031],[769.2,0.0],[770.7,-0.044],[771.8,0.0],[773,0.050],[774.2,-0.062],[775.6,0.0],[777.1,0.078],[778.4,0.01],[779.7,-0.047],[780.8,0.0],[782,0.063],[783.4,-0.047],[784.9,0.037],[786.4,0.0],[787.9,0.076],[789.4,0.01],[790.9,-0.065],[792,0.0],[793.1,0.093],[794.2,0.02],[795.4,-0.039],[796.3,0.0],[797.2,0.050],[798.6,0.0],[799.9,-0.067],[801,0.0],[802.1,0.024],[803.2,0.0],[804.3,-0.054],[805.1,0.070],[806.2,0.01],[807.3,-0.024],[808.8,0.064],[810,-0.105],[811.1,0.071],[812.2,0.02],[813.3,0.057],[815.2,0.0],[817,-0.048],[818,0.0],[819,0.015],[820,0.05],[821.1,0.127],[823,0.057],[824.2,0.0],[825.3,-0.081],[826,0.033],[827.8,0.0],[829.7,-0.058],[830.8,0.0],[832,0.051],[833.5,-0.075],[835.3,0.0],[837.2,0.083],[838.4,-0.005],[839.5,0.025]]

const blue = '#4285f4'
const tickFont = { family: 'DejaVu Sans', size: 81 }

const panelBg = {
  id: 'panelBg',
  beforeDraw(chart) {
    const { ctx, chartArea: a } = chart
    ctx.save()
    ctx.fillStyle = '#f5f5f5'
    ctx.fillRect(a.left, a.top, a.right - a.left, a.bottom - a.top)
    ctx.restore()
  }
}

const panelTitle = {
  id: 'panelTitle',
  afterDraw(chart, args, opts) {
    const { ctx, chartArea: a } = chart
    ctx.save()
    ctx.font = '102px "DejaVu Sans"'
    ctx.fillStyle = '#000'
    ctx.textAlign = 'center'
    ctx.textBaseline = 'middle'
    ctx.fillText(opts.text, (a.left + a.right) / 2, a.top - 70)
    ctx.restore()
  }
}

function fmt(v, digits) {
  if (Math.abs(v) < 1e-9) v = 0
  const s = Math.abs(v).toFixed(digits)
  return v < 0 ? '\u2212' + s : s
}

function tickGrid() {
  return {
    color: '#ffffff',
    lineWidth: 6,
    tickColor: '#222',
    tickWidth: 3,
    tickLength: 23,
    tickBorderDash: [0, 9, 14, 1000]
  }
}

// one matplotlib-like subplot per canvas
function panel(id, top, height, title, data, yMin, yMax, yTicks, digits, smooth) {
  const canvas = document.getElementById(id)
  canvas.width = 3626
  canvas.height = height + 295
  canvas.style.top = (top - 165) + 'px'

  new Chart(canvas, {
    type: 'line',
    data: {
      datasets: [{
        data: data,
        borderColor: blue,
        borderWidth: 10.5,
        pointRadius: 0,
        fill: false,
        tension: 0,
        borderJoinStyle: 'round',
        cubicInterpolationMode: smooth ? 'monotone' : 'default'
      }]
    },
    options: {
      responsive: false,
      animation: false,
      events: [],
      layout: { padding: { top: 165, right: 30, left: 0, bottom: 0 } },
      plugins: {
        legend: { display: false },
        tooltip: { enabled: false },
        panelTitle: { text: title }
      },
      scales: {
        x: {
          type: 'linear',
          min: -40.2,
          max: 881.3,
          afterFit: s => { s.height = 130 },
          afterBuildTicks: s => { s.ticks = xTicks.map(v => ({ value: v })) },
          grid: tickGrid(),
          border: { display: false },
          ticks: { font: tickFont, color: '#000', padding: 6, maxRotation: 0, autoSkip: false, callback: v => String(v) }
        },
        y: {
          type: 'linear',
          min: yMin,
          max: yMax,
          afterFit: s => { s.width = 330 },
          afterBuildTicks: s => { s.ticks = yTicks.map(v => ({ value: v })) },
          grid: tickGrid(),
          border: { display: false },
          ticks: { font: tickFont, color: '#000', padding: 19, callback: v => fmt(v, digits) }
        }
      }
    },
    plugins: [panelBg, panelTitle]
  })
}

panel('obs', 172, 580, titles[0], observed, -24.04, 20.15, obsTicks, 0, false)
panel('trend', 1069, 581, titles[1], trend, -21.96, 17.3, trendTicks, 0, false)
panel('season', 1962, 583, titles[2], seasonal, -5.35, 5.43, seasonTicks, 0, true)
panel('resid', 2869, 584, titles[3], residual, -0.1673, 0.1773, residTicks, 1, false)
</script>
</body>
</html>
